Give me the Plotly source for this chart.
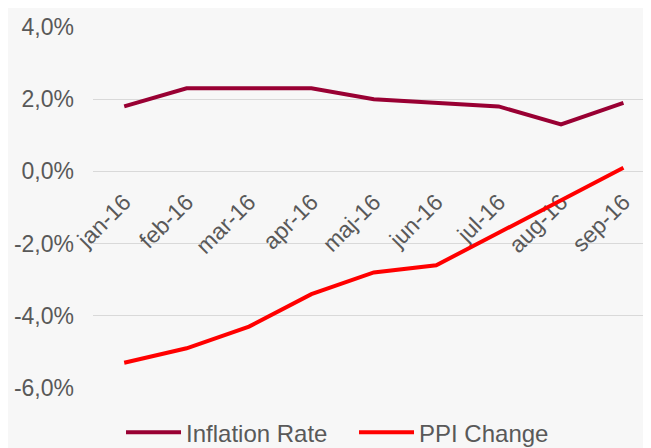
import plotly.graph_objects as go

months = ["jan-16", "feb-16", "mar-16", "apr-16", "maj-16", "jun-16", "jul-16", "aug-16", "sep-16"]
inflation_rate = [1.8, 2.3, 2.3, 2.3, 2.0, 1.9, 1.8, 1.3, 1.9]
ppi_change = [-5.3, -4.9, -4.3, -3.4, -2.8, -2.6, -1.7, -0.8, 0.1]
y_tick_vals = [-6, -4, -2, 0, 2, 4]
y_tick_text = ["-6,0%", "-4,0%", "-2,0%", "0,0%", "2,0%", "4,0%"]

font_family = "Liberation Sans, Arial, sans-serif"
text_color = "#595959"

fig = go.Figure()
fig.add_trace(go.Scatter(x=months, y=inflation_rate, mode="lines", name="Inflation Rate",
                         line=dict(color="#990033", width=4)))
fig.add_trace(go.Scatter(x=months, y=ppi_change, mode="lines", name="PPI Change",
                         line=dict(color="#ff0000", width=4)))

fig.update_layout(
    width=651, height=448,
    margin=dict(l=85, r=0, t=19, b=68, autoexpand=False),
    paper_bgcolor="#f7f7f7", plot_bgcolor="#f7f7f7",
    font=dict(family=font_family, size=23, color=text_color),
    showlegend=True,
    legend=dict(orientation="h", xref="container", yref="container",
                x=0.1736, xanchor="left", y=0.052, yanchor="middle",
                font=dict(size=24, color=text_color), itemwidth=55,
                entrywidth=163, entrywidthmode="pixels",
                bgcolor="rgba(0,0,0,0)"),
    xaxis=dict(type="category", range=[-0.5, 8.57], showgrid=False, zeroline=False,
               showline=False, anchor="free", position=0.6, tickangle=-45,
               ticks="outside", ticklen=7, tickcolor="rgba(0,0,0,0)", automargin=False,
               layer="below traces", tickfont=dict(size=23, color=text_color)),
    yaxis=dict(range=[-6, 4], tickvals=y_tick_vals, ticktext=y_tick_text,
               showgrid=True, gridcolor="#d9d9d9", gridwidth=1, zeroline=False, automargin=False,
               showline=False, ticklabelstandoff=18, tickfont=dict(size=23, color=text_color)),
)

fig.write_html("out.html")
